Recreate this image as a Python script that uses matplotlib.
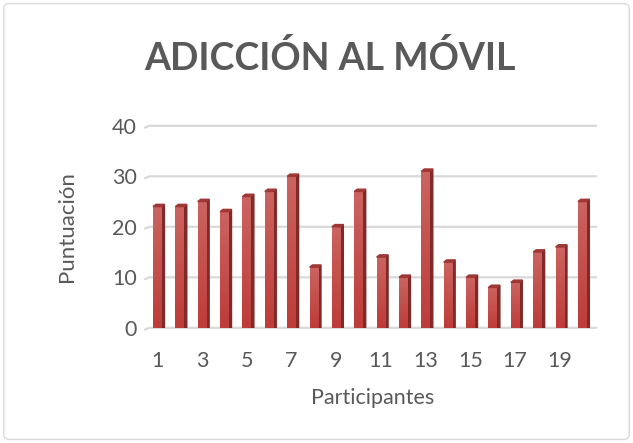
import matplotlib.pyplot as plt
import numpy as np
from matplotlib.patches import Polygon, FancyBboxPatch
from matplotlib.colors import LinearSegmentedColormap

participantes = list(range(1, 21))
puntuacion = [24, 24, 25, 23, 26, 27, 30, 12, 20, 27, 14, 10, 31, 13, 10, 8, 9, 15, 16, 25]
yticks = [0, 10, 20, 30, 40]
xticks = list(range(1, 20, 2))

plt.rcParams['font.family'] = ['Lato', 'DejaVu Sans']
gris = '#595959'

fig = plt.figure(figsize=(6.33, 4.43), dpi=100)
fig.patches.append(FancyBboxPatch((0.006, 0.008), 0.988, 0.984, boxstyle='round,pad=0,rounding_size=0.01',
                                  transform=fig.transFigure, fill=False, edgecolor='#D9D9D9', linewidth=1))

ax = fig.add_axes([0.229, 0.26, 0.719, 0.456])

w = 0.38      # front face width
d = 0.13      # depth offset in x
dy = 0.45     # depth offset in y

# gridlines with a little perspective at the left end
for t in yticks:
    ax.plot([0.45, 0.45 + d * 1.5, 20.5 + d], [t - dy * 0.8, t, t], color='#D9D9D9', lw=1.6,
            zorder=0, clip_on=False, solid_capstyle='round')

x = np.array(participantes)
y = np.array(puntuacion)
grad = np.linspace(0, 1, 100).reshape(-1, 1)
cmap = LinearSegmentedColormap.from_list('r', ['#BE3C39', '#CB6461'])
for xi, yi in zip(x, y):
    # front face with a light vertical gradient
    ax.imshow(grad, extent=(xi - w / 2, xi + w / 2, 0, yi), origin='lower', cmap=cmap,
              aspect='auto', zorder=3)
    top = Polygon([(xi - w / 2, yi), (xi + w / 2, yi), (xi + w / 2 + d, yi + dy), (xi - w / 2 + d, yi + dy)],
                  closed=True, color='#9E3836', zorder=3)
    ax.add_patch(top)
    side = Polygon([(xi + w / 2, 0), (xi + w / 2 + d, dy * 0.2), (xi + w / 2 + d, yi + dy), (xi + w / 2, yi)],
                   closed=True, color='#7F2A28', zorder=2)
    ax.add_patch(side)
ax.set_xlim(0.45, 20.8)
ax.set_ylim(0, 40)

for s in ax.spines.values():
    s.set_visible(False)
ax.set_xticks(xticks)
ax.set_yticks(yticks)
ax.tick_params(length=0, labelsize=15.5, colors=gris)
ax.tick_params(axis='y', pad=6)
ax.tick_params(axis='x', pad=17)
ax.set_xlabel('Participantes', fontsize=15.5, color=gris, labelpad=12)
ax.set_ylabel('Puntuación', fontsize=16, color=gris, labelpad=25)

fig.text(0.521, 0.87, 'ADICCIÓN AL MÓVIL', ha='center', va='center', fontsize=27,
         fontweight='bold', color=gris)

fig.savefig('out.png', dpi=100)
